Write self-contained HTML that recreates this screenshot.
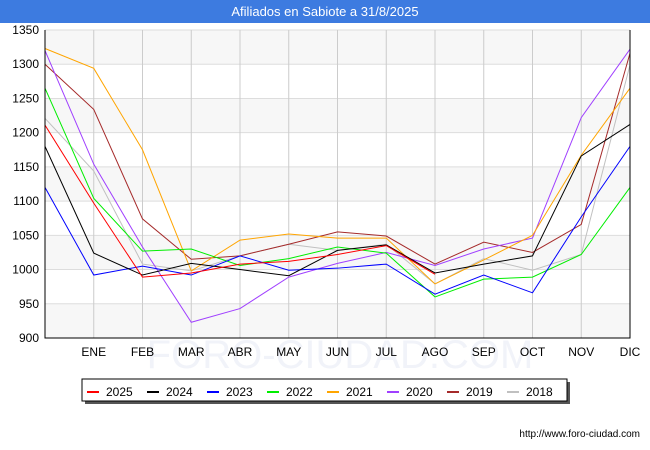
<!DOCTYPE html>
<html><head><meta charset="utf-8"><style>
body{margin:0;width:650px;height:450px;background:#fff;font-family:"Liberation Sans",sans-serif;overflow:hidden}
#title{position:absolute;left:0;top:0;width:650px;height:23px;background:#3d7be0;color:#fff;font-size:13px;text-align:center;line-height:23px}
svg{position:absolute;left:0;top:0}
</style></head><body>
<div id="title">Afiliados en Sabiote a 31/8/2025</div>
<svg id="c" width="650" height="450"></svg>
<script>
const months=["","ENE","FEB","MAR","ABR","MAY","JUN","JUL","AGO","SEP","OCT","NOV","DIC"];
const yTicks=[900,950,1000,1050,1100,1150,1200,1250,1300,1350];
const seriesNames=["2025","2024","2023","2022","2021","2020","2019","2018"];
const seriesColors=["#ff0000","#000000","#0000ff","#00ee00","#ffa500","#a040ff","#a52a2a","#c0c0c0"];
const s2025=[1211,1097,989,995,1008,1012,1022,1035,993];
const s2024=[1180,1024,992,1009,1000,991,1028,1036,995,1008,1020,1166,1212];
const s2023=[1120,992,1005,992,1020,999,1002,1008,964,992,966,1077,1180];
const s2022=[1265,1104,1027,1030,1006,1016,1033,1024,960,986,989,1022,1120];
const s2021=[1323,1294,1175,998,1043,1052,1046,1046,979,1014,1050,1167,1265];
const s2020=[1320,1154,1033,923,943,989,1009,1025,1006,1030,1046,1222,1322];
const s2019=[1300,1234,1074,1015,1020,1037,1055,1049,1008,1040,1025,1066,1316];
const s2018=[1221,1144,1008,998,1020,1037,1028,1037,979,1016,999,1022,1299];
const data=[s2025,s2024,s2023,s2022,s2021,s2020,s2019,s2018];
const L=45,R=630,T=30,B=338;
const X=i=>L+i*(R-L)/12;
const Y=v=>B-(v-900)*(B-T)/450;
const svg=document.getElementById('c');const NS="http://www.w3.org/2000/svg";
function mk(t,a,p){const e=document.createElementNS(NS,t);for(const k in a)e.setAttribute(k,a[k]);(p||svg).appendChild(e);return e;}
for(let i=0;i<yTicks.length-1;i++){if(i%2==0){const r=mk('rect',{x:L,y:Y(yTicks[i+1]),width:R-L,height:Y(yTicks[i])-Y(yTicks[i+1]),fill:'#f7f7f7'});

}}
const wm=mk('text',{x:340,y:368,'text-anchor':'middle','font-size':40,fill:'#f1f3f9'});wm.textContent="FORO-CIUDAD.COM";


yTicks.forEach(v=>{const l=mk('line',{x1:L,x2:R,y1:Y(v),y2:Y(v),stroke:'#dddddd'});


const t=mk('text',{x:L-6,y:Y(v)+4,'text-anchor':'end','font-size':12,fill:'#000'});t.textContent=v;

});
months.forEach((m,i)=>{if(i>0){const l=mk('line',{x1:X(i),x2:X(i),y1:T,y2:B,stroke:'#cccccc'});

}
const t=mk('text',{x:X(i),y:356,'text-anchor':'middle','font-size':12,fill:'#000'});t.textContent=m;

});
for(let s=data.length-1;s>=0;s--){const p=mk('polyline',{points:data[s].map((v,i)=>X(i)+','+Y(v)).join(' '),fill:'none',stroke:seriesColors[s],'stroke-width':1});

}
const ax=mk('path',{d:`M${L},${T}V${B}H${R}V${T}`,fill:'none',stroke:'#000'});


mk('rect',{x:85,y:382,width:485,height:22,fill:'#555'});
const lg=mk('rect',{x:82,y:379,width:485,height:22,fill:'#fff',stroke:'#000'});


seriesNames.forEach((n,i)=>{const x0=87+i*60;
const ln=mk('line',{x1:x0,x2:x0+12,y1:392,y2:392,stroke:seriesColors[i],'stroke-width':2});


const t=mk('text',{x:x0+19,y:396,'font-size':12,fill:'#000'});t.textContent=n;

});
const u=mk('text',{x:640,y:437,'text-anchor':'end','font-size':10,fill:'#000'});u.textContent="http://www.foro-ciudad.com";


</script>
</body></html>
